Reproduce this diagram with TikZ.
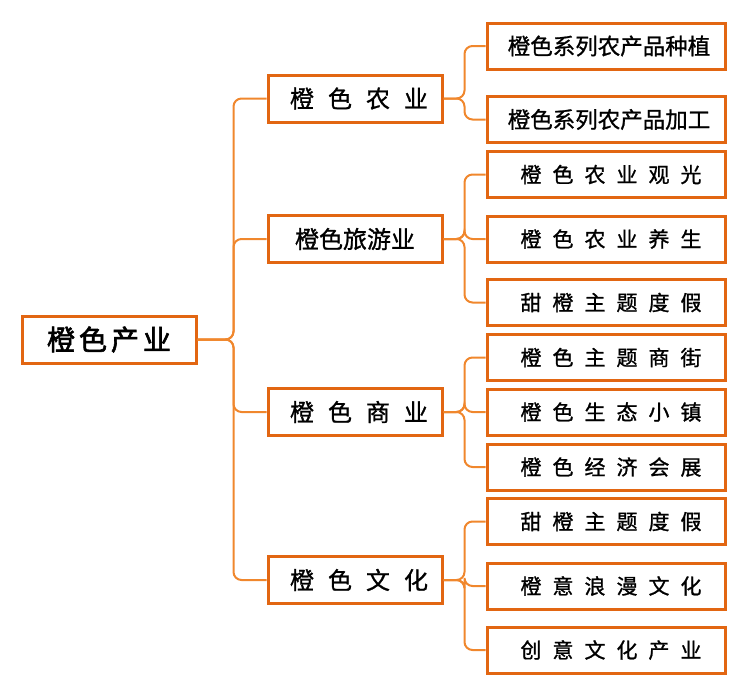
\documentclass[tikz,border=0pt]{standalone}
\usepackage{fontspec}
\newfontfamily\cjk[FakeBold=1]{Noto Sans CJK SC}
\newfontfamily\cjkb[FakeBold=2.2]{Noto Sans CJK SC}
\definecolor{boxline}{RGB}{226,102,18}
\definecolor{linkline}{RGB}{240,135,45}
\newcommand\gapR{\hspace{4pt}}
\newcommand\gapL{\hspace{14pt}}
\newcommand\gapS{\hspace{11pt}}
\tikzset{
  box/.style={draw=boxline, line width=3pt, fill=white, rectangle, inner sep=0pt, text=black},
  rootbox/.style={box, minimum width=174pt, minimum height=47pt, font=\cjkb\fontsize{28}{30}\selectfont},
  lonebox/.style={box, minimum width=174pt, minimum height=47pt, font=\cjk\fontsize{24}{26}\selectfont},
  ltwobox/.style={box, minimum width=238pt, minimum height=46pt, font=\cjk\fontsize{21}{23}\selectfont},
  ltwolong/.style={box, minimum width=238pt, minimum height=46pt, font=\cjk\fontsize{22.5}{25}\selectfont},
  link/.style={draw=linkline, line width=2pt, rounded corners=8pt},
}
\begin{document}
\begin{tikzpicture}[x=1pt,y=1pt]
\useasboundingbox (0,0) rectangle (750,-694);
% root
\node[rootbox] (root) at (109,-339.5) {橙\gapR 色\gapR 产\gapR 业};
% level one
\node[lonebox] (a) at (355,-98.5) {\hspace{8pt}橙\gapL 色\gapL 农\gapL 业};
\node[lonebox] (b) at (355,-239) {橙色旅游业};
\node[lonebox] (c) at (355,-412) {\hspace{8pt}橙\gapL 色\gapL 商\gapL 业};
\node[lonebox] (d) at (355,-580) {\hspace{8pt}橙\gapL 色\gapL 文\gapL 化};
% level two
\node[ltwolong] (a1) at (606,-46) {\hspace{6pt}橙色系列农产品种植};
\node[ltwolong] (a2) at (606,-119.5) {\hspace{6pt}橙色系列农产品加工};
\node[ltwobox] (b1) at (606,-174.5) {\hspace{10pt}橙\gapS 色\gapS 农\gapS 业\gapS 观\gapS 光};
\node[ltwobox] (b2) at (606,-239) {\hspace{10pt}橙\gapS 色\gapS 农\gapS 业\gapS 养\gapS 生};
\node[ltwobox] (b3) at (606,-302.5) {\hspace{10pt}甜\gapS 橙\gapS 主\gapS 题\gapS 度\gapS 假};
\node[ltwobox] (c1) at (606,-357.5) {\hspace{10pt}橙\gapS 色\gapS 主\gapS 题\gapS 商\gapS 街};
\node[ltwobox] (c2) at (606,-412) {\hspace{10pt}橙\gapS 色\gapS 生\gapS 态\gapS 小\gapS 镇};
\node[ltwobox] (c3) at (606,-467) {\hspace{10pt}橙\gapS 色\gapS 经\gapS 济\gapS 会\gapS 展};
\node[ltwobox] (d1) at (606,-521.5) {\hspace{10pt}甜\gapS 橙\gapS 主\gapS 题\gapS 度\gapS 假};
\node[ltwobox] (d2) at (606,-586) {\hspace{10pt}橙\gapS 意\gapS 浪\gapS 漫\gapS 文\gapS 化};
\node[ltwobox] (d3) at (606,-650) {\hspace{10pt}创\gapS 意\gapS 文\gapS 化\gapS 产\gapS 业};
% connectors
\foreach \t in {a,b,c,d}
  \draw[link] (root.east) -- ([xshift=36pt]root.east) |- (\t.west);
\foreach \p/\cs in {a/{a1,a2}, b/{b1,b2,b3}, c/{c1,c2,c3}, d/{d1,d2,d3}}
  \foreach \t in \cs
    \draw[link] (\p.east) -- ([xshift=21pt]\p.east) |- (\t.west);
\end{tikzpicture}
\end{document}
